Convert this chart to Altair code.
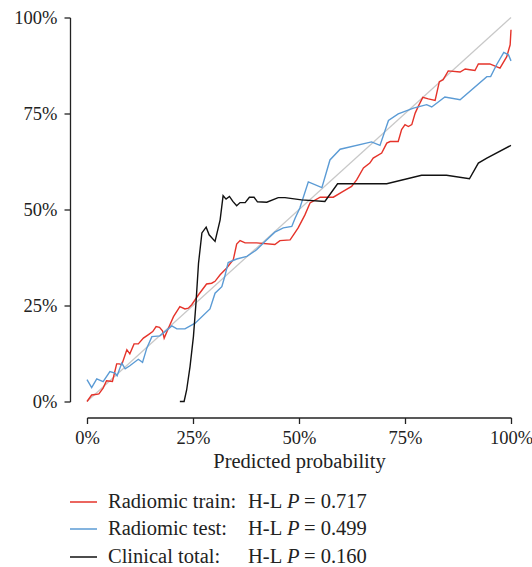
import altair as alt
import pandas as pd

# ---- data ----
red_x = [0.0, 0.011, 0.023, 0.028, 0.038, 0.046, 0.060, 0.070, 0.076, 0.082, 0.094, 0.101, 0.111, 0.121,
         0.133, 0.145, 0.155, 0.163, 0.171, 0.178, 0.182, 0.192, 0.204, 0.219, 0.231, 0.239, 0.247, 0.263,
         0.282, 0.294, 0.302, 0.314, 0.329, 0.345, 0.353, 0.361, 0.373, 0.400, 0.443, 0.455, 0.479, 0.487,
         0.498, 0.514, 0.526, 0.550, 0.581, 0.604, 0.624, 0.636, 0.652, 0.667, 0.675, 0.695, 0.707, 0.715,
         0.734, 0.742, 0.750, 0.758, 0.766, 0.774, 0.781, 0.792, 0.805, 0.821, 0.831, 0.840, 0.852, 0.880,
         0.892, 0.903, 0.915, 0.923, 0.950, 0.974, 0.990, 0.998, 1.0]
red_y = [0.0, 0.017, 0.019, 0.020, 0.035, 0.054, 0.052, 0.098, 0.098, 0.096, 0.135, 0.124, 0.150, 0.150,
         0.165, 0.174, 0.182, 0.195, 0.193, 0.184, 0.165, 0.191, 0.221, 0.247, 0.241, 0.243, 0.252, 0.278,
         0.306, 0.308, 0.313, 0.330, 0.347, 0.369, 0.410, 0.419, 0.413, 0.413, 0.409, 0.419, 0.421, 0.434,
         0.452, 0.486, 0.517, 0.532, 0.532, 0.547, 0.560, 0.577, 0.608, 0.621, 0.634, 0.647, 0.673, 0.677,
         0.677, 0.708, 0.721, 0.716, 0.721, 0.751, 0.768, 0.792, 0.788, 0.784, 0.833, 0.838, 0.861, 0.858,
         0.866, 0.864, 0.862, 0.879, 0.879, 0.868, 0.898, 0.929, 0.968]

blue_x = [0.0, 0.011, 0.023, 0.038, 0.054, 0.066, 0.071, 0.082, 0.090, 0.101, 0.121, 0.131, 0.141, 0.153,
          0.172, 0.184, 0.200, 0.212, 0.231, 0.255, 0.290, 0.302, 0.318, 0.325, 0.333, 0.353, 0.377, 0.400,
          0.424, 0.443, 0.463, 0.483, 0.491, 0.502, 0.522, 0.554, 0.573, 0.597, 0.671, 0.691, 0.711, 0.734,
          0.770, 0.801, 0.813, 0.844, 0.880, 0.943, 0.952, 0.966, 0.983, 0.994, 1.0]
blue_y = [0.057, 0.036, 0.059, 0.052, 0.078, 0.074, 0.067, 0.100, 0.085, 0.093, 0.110, 0.102, 0.139, 0.169,
          0.171, 0.182, 0.197, 0.189, 0.189, 0.204, 0.241, 0.282, 0.299, 0.326, 0.362, 0.371, 0.378, 0.395,
          0.421, 0.441, 0.452, 0.456, 0.478, 0.504, 0.572, 0.557, 0.629, 0.657, 0.676, 0.667, 0.732, 0.749,
          0.764, 0.773, 0.767, 0.793, 0.786, 0.846, 0.846, 0.877, 0.909, 0.903, 0.887]

black_x = [0.219, 0.229, 0.235, 0.243, 0.251, 0.257, 0.263, 0.271, 0.281, 0.288, 0.302, 0.314, 0.321, 0.328,
           0.336, 0.344, 0.353, 0.361, 0.373, 0.383, 0.394, 0.402, 0.424, 0.451, 0.467, 0.506, 0.561, 0.591,
           0.707, 0.789, 0.848, 0.902, 0.923, 0.943, 1.0]
black_y = [0.0, 0.0, 0.030, 0.091, 0.169, 0.256, 0.360, 0.439, 0.454, 0.434, 0.417, 0.473, 0.536, 0.527,
           0.534, 0.521, 0.510, 0.518, 0.518, 0.532, 0.532, 0.520, 0.519, 0.531, 0.531, 0.525, 0.521, 0.567,
           0.567, 0.589, 0.589, 0.580, 0.621, 0.634, 0.667]

series_names = ["Radiomic train", "Radiomic test", "Clinical total"]
series_colors = ["#e5332a", "#5b9bd5", "#111111"]
legend_labels = ["Radiomic train:", "Radiomic test:", "Clinical total:"]
legend_pvals = ["0.717", "0.499", "0.160"]
ticks = [0, 0.25, 0.5, 0.75, 1.0]

FONT = "Liberation Serif"

# ---- tables ----
frames = []
for name, xs, ys in zip(series_names, [red_x, blue_x, black_x], [red_y, blue_y, black_y]):
    frames.append(pd.DataFrame({"series": name, "x": xs, "y": ys, "order": range(len(xs))}))
curves = pd.concat(frames, ignore_index=True)
diag = pd.DataFrame({"x": [0.0, 1.0], "y": [0.0, 1.0]})

xscale = alt.Scale(domain=[0, 1], nice=False, zero=False)
yscale = alt.Scale(domain=[0, 1], nice=False, zero=False)

axis_style = dict(labelFont=FONT, labelFontSize=18.5, labelColor="#222",
                  titleFont=FONT, titleFontSize=20.5, titleColor="#222", titleFontWeight="normal",
                  domainColor="#222", domainWidth=1.3, tickColor="#222", tickWidth=1.3,
                  tickSize=6, grid=False, labelFlush=False, values=ticks, format=".0%")
xaxis = alt.Axis(offset=16, title="Predicted probability", labelPadding=5, titlePadding=4, **axis_style)
yaxis = alt.Axis(offset=17, title=None, labelPadding=7, **axis_style)

diag_layer = alt.Chart(diag).mark_line(color="#c8c8c8", strokeWidth=1.3).encode(
    x=alt.X("x:Q", scale=xscale, axis=xaxis),
    y=alt.Y("y:Q", scale=yscale, axis=yaxis),
)

curve_layer = alt.Chart(curves).mark_line(strokeWidth=1.4).encode(
    x=alt.X("x:Q", scale=xscale, axis=xaxis),
    y=alt.Y("y:Q", scale=yscale, axis=yaxis),
    color=alt.Color("series:N", scale=alt.Scale(domain=series_names, range=series_colors), legend=None),
    order="order:Q",
)

# ---- manual legend below the plot ----
legend_rows_y = [484.5, 511.5, 539.5]
legend_df = pd.DataFrame({"label": legend_labels, "p": legend_pvals, "color": series_colors})
legend_layers = []
for i in range(3):
    row = legend_df.iloc[[i]]
    yv = alt.value(legend_rows_y[i])
    legend_layers.append(
        alt.Chart(row).mark_rule(color=series_colors[i], strokeWidth=1.5).encode(
            x=alt.value(-17), x2=alt.value(10), y=yv))
    legend_layers.append(
        alt.Chart(row).mark_text(align="left", baseline="middle", font=FONT, fontSize=20.5, color="#222").encode(
            x=alt.value(21), y=yv, text="label:N"))
    legend_layers.append(
        alt.Chart(row).mark_text(align="left", baseline="middle", font=FONT, fontSize=20.5, color="#222",
                                 text="H-L").encode(x=alt.value(161), y=yv))
    legend_layers.append(
        alt.Chart(row).mark_text(align="left", baseline="middle", font=FONT, fontSize=20.5, color="#222",
                                 fontStyle="italic", text="P").encode(x=alt.value(200), y=yv))
    legend_layers.append(
        alt.Chart(row).transform_calculate(t="'= ' + datum.p").mark_text(
            align="left", baseline="middle", font=FONT, fontSize=20.5, color="#222").encode(
            x=alt.value(217), y=yv, text="t:N"))

chart = alt.layer(diag_layer, curve_layer, *legend_layers).properties(
    width=424, height=384,
    autosize=alt.AutoSizeParams(type="none"),
    padding={"left": 87, "top": 17.5, "right": 21, "bottom": 165.5},
    background="white",
).configure_view(stroke=None)

chart.save("out.html", embed_options={"renderer": "svg", "actions": False})
